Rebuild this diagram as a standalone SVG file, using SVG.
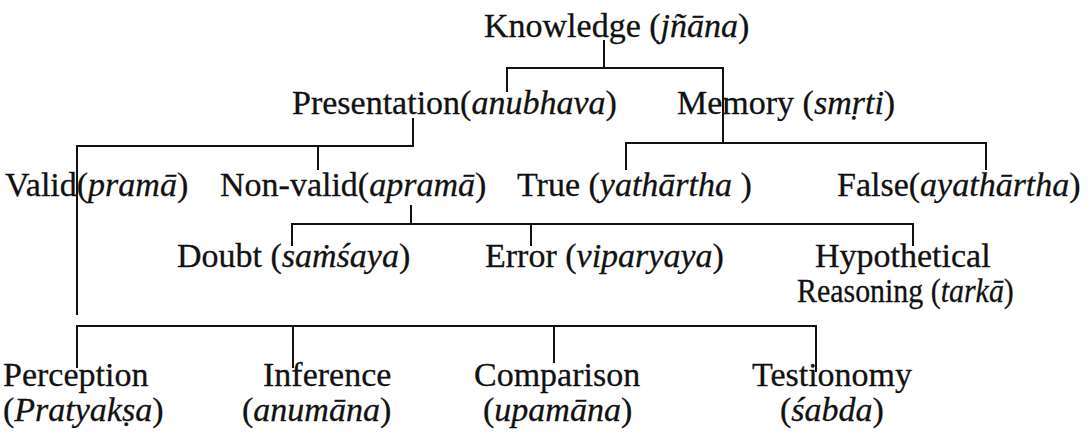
<svg xmlns="http://www.w3.org/2000/svg" width="1091" height="440" viewBox="0 0 1091 440">
<style>
text{font-family:"Liberation Serif","Times New Roman",serif;font-size:34px;fill:#111;stroke:#111;stroke-width:0.3}
.i{font-style:italic}
.c{stroke:#111;stroke-width:2;fill:none}
</style>
<rect width="1091" height="440" fill="#fff"/>
<g id="connectors" class="c">
<path d="M604 40V68M507 92V68H723V142"/>
<path d="M413 118V146H77V315M318 146V170"/>
<path d="M626 170V143H986V170"/>
<path d="M411 205V224M292 246V224H913V246M531 224V246"/>
<path d="M77 368V326H816V372M293 326V368M554 326V363"/>
</g>
<g id="knowledge"><text x="484" y="37">Knowledge (<tspan class="i">jñāna</tspan>)</text></g>
<g id="presentation"><text x="292" y="114">Presentation(<tspan class="i">anubhava</tspan>)</text></g>
<g id="memory"><text x="677" y="114">Memory (<tspan class="i">smṛti</tspan>)</text></g>
<g id="valid"><text x="5" y="196">Valid(<tspan class="i">pramā</tspan>)</text></g>
<g id="nonvalid"><text x="220" y="196">Non-valid(<tspan class="i">apramā</tspan>)</text></g>
<g id="true"><text x="517" y="196">True (<tspan class="i">yathārtha </tspan>)</text></g>
<g id="false"><text x="837" y="196">False(<tspan class="i">ayathārtha</tspan>)</text></g>
<g id="doubt"><text x="177" y="267">Doubt (<tspan class="i">saṁśaya</tspan>)</text></g>
<g id="error"><text x="485" y="267">Error (<tspan class="i">viparyaya</tspan>)</text></g>
<g id="tarka"><text x="815" y="267">Hypothetical</text><text transform="matrix(0.88 0 0 1 797 302)">Reasoning (<tspan class="i">tarkā</tspan>)</text></g>
<g id="perception"><text x="3" y="386">Perception</text><text x="3" y="421">(<tspan class="i">Pratyakṣa</tspan>)</text></g>
<g id="inference"><text x="263" y="386">Inference</text><text x="242" y="421">(<tspan class="i">anumāna</tspan>)</text></g>
<g id="comparison"><text x="474" y="386">Comparison</text><text x="483" y="421">(<tspan class="i">upamāna</tspan>)</text></g>
<g id="testimony"><text x="752" y="386">Testionomy</text><text x="780" y="421">(<tspan class="i">śabda</tspan>)</text></g>
</svg>
